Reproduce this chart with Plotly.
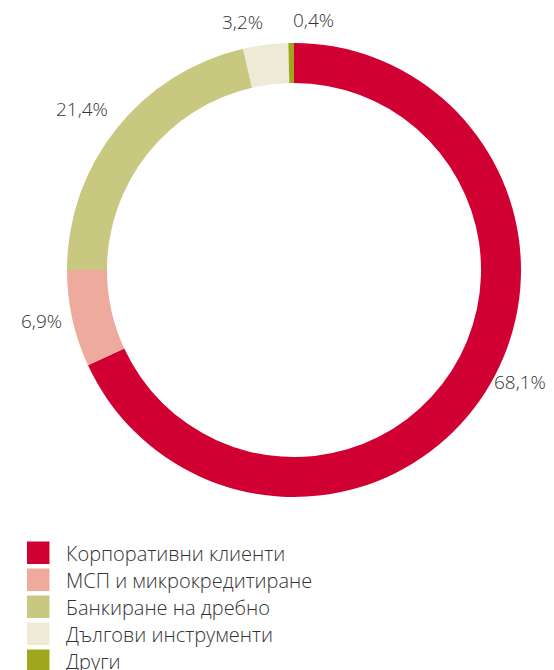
import math
import plotly.graph_objects as go

# данни
labels = ["Корпоративни клиенти", "МСП и микрокредитиране", "Банкиране на дребно",
          "Дългови инструменти", "Други"]
values = [68.1, 6.9, 21.4, 3.2, 0.4]
colors = ["#D10032", "#EEAA9C", "#C8C880", "#EDEBD6", "#9FA81C"]

# подравняване на етикетите спрямо кръга
xanchors = ["left", "right", "right", "right", "left"]
yanchors = ["bottom", "middle", "bottom", "bottom", "bottom"]

OFF = 8  # отстъп на body в страницата
W, H = 554 - OFF, 670 - OFF
FONT = "Open Sans"
TXT = "#333333"

# размери на кръга в пиксели
cx, cy, r = 294 - OFF, 270 - OFF, 227

fig = go.Figure()
fig.add_trace(go.Pie(
    labels=labels,
    values=values,
    textinfo="none",
    marker=dict(colors=colors, line=dict(width=0)),
    hole=0.824,
    sort=False,
    direction="clockwise",
    rotation=0,
    showlegend=False,
    hoverinfo="label+percent",
    domain=dict(x=[(cx - r) / W, (cx + r) / W],
                y=[(H - cy - r) / H, (H - cy + r) / H]),
))

annotations = []
# етикети с проценти - по средата на всеки сегмент
total = sum(values)
cum = 0
for v, xa, ya in zip(values, xanchors, yanchors):
    ang = (cum + v / 2) / total * 2 * math.pi
    cum += v
    rr = r + 8
    px = cx + rr * math.sin(ang)
    py = cy - rr * math.cos(ang)
    annotations.append(dict(text=f"{v:.1f}".replace(".", ",") + "%",
                            xref="paper", yref="paper", x=px / W, y=1 - py / H,
                            xanchor=xa, yanchor=ya, showarrow=False,
                            font=dict(family=FONT, size=19, color=TXT, weight=300)))

# легенда - квадратчета и текст
shapes = []
for i, (lab, col) in enumerate(zip(labels, colors)):
    top = 541.5 - OFF + i * 27
    shapes.append(dict(type="rect", xref="paper", yref="paper",
                       x0=(27 - OFF) / W, x1=(49.5 - OFF) / W,
                       y0=1 - (top + 22.5) / H, y1=1 - top / H,
                       fillcolor=col, line=dict(width=0)))
    annotations.append(dict(text=lab, xref="paper", yref="paper",
                            x=(64 - OFF) / W, y=1 - (top + 11.5) / H,
                            xanchor="left", yanchor="middle", showarrow=False,
                            font=dict(family=FONT, size=20, color=TXT, weight=300)))

fig.update_layout(
    width=W, height=H,
    margin=dict(l=0, r=0, t=0, b=0),
    paper_bgcolor="white",
    plot_bgcolor="white",
    shapes=shapes,
    annotations=annotations,
)

fig.write_html("out.html")
